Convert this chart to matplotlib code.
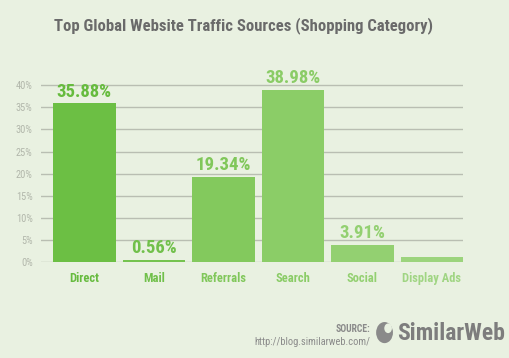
import matplotlib
matplotlib.use("Agg")
import matplotlib.pyplot as plt
from matplotlib.patches import Ellipse

categories = ["Direct", "Mail", "Referrals", "Search", "Social", "Display Ads"]
values = [35.88, 0.56, 19.34, 38.98, 3.91, 1.15]
value_labels = ["35.88%", "0.56%", "19.34%", "38.98%", "3.91%", ""]
yticks = [0, 5, 10, 15, 20, 25, 30, 35, 40]
ytick_labels = ["0%", "5%", "10%", "15%", "20%", "25%", "30%", "35%", "40%"]

bar_colors = ["#6cbf44", "#75c34f", "#83c95d", "#8bcd67", "#93d071", "#9cd47d"]
text_colors = ["#66bb3e", "#71c04b", "#80c75a", "#8acc66", "#93d071", "#a0d583"]

fam = ["Roboto Condensed", "DejaVu Sans"]

bg = "#e9f1e1"
fig = plt.figure(figsize=(5.10, 3.58), dpi=100, facecolor=bg)
ax = fig.add_axes([0.0804, 0.2673, 0.8275, 0.5014])
ax.set_facecolor(bg)

x = list(range(len(categories)))
ax.bar(x, values, width=0.9, color=bar_colors, zorder=3)
ax.set_xlim(-0.625, 5.45)
ax.set_ylim(0, 40.5)

for yv in yticks:
    ax.axhline(yv, color="#b9beb2", lw=1.0, zorder=1)

ax.set_yticks(yticks)
ax.set_yticklabels(ytick_labels, family=fam, fontsize=7.5, color="#b2b7ab")
ax.tick_params(axis="y", length=0, pad=6)
ax.set_xticks(x)
ax.set_xticklabels(categories, family=fam, fontsize=9, fontweight="bold")
for lab, c in zip(ax.get_xticklabels(), text_colors):
    lab.set_color(c)
ax.tick_params(axis="x", length=0, pad=7)
for s in ax.spines.values():
    s.set_visible(False)

for xi, v, lab, c in zip(x, values, value_labels, text_colors):
    if lab:
        ax.annotate(lab, (xi, v), xytext=(0, 2), textcoords="offset points",
                    ha="center", va="bottom", family=fam, fontsize=13.5,
                    fontweight="bold", color=c, zorder=4, annotation_clip=False)

fig.text(0.477, 0.928, "Top Global Website Traffic Sources (Shopping Category)",
         ha="center", va="center", family=fam, fontsize=12, fontweight="bold",
         color="#6a6a6a")

fig.text(0.726, 0.081, "SOURCE:", ha="right", va="center", family=fam,
         fontsize=7, fontweight="bold", color="#8a8a8a")
fig.text(0.726, 0.046, "http://blog.similarweb.com/", ha="right", va="center",
         family=fam, fontsize=7.5, color="#8a8a8a")
fig.text(0.778, 0.068, "SimilarWeb", ha="left", va="center", family=fam,
         fontsize=17, fontweight="bold", color="#7d7d7d")

# logo icon
fig.patches.append(Ellipse((0.754, 0.071), 0.033, 0.059, transform=fig.transFigure,
                           facecolor="#8a8a8a", edgecolor="none"))
fig.patches.append(Ellipse((0.761, 0.083), 0.015, 0.027, transform=fig.transFigure,
                           facecolor=bg, edgecolor="none"))

fig.savefig("out.png", dpi=100, facecolor=bg)
